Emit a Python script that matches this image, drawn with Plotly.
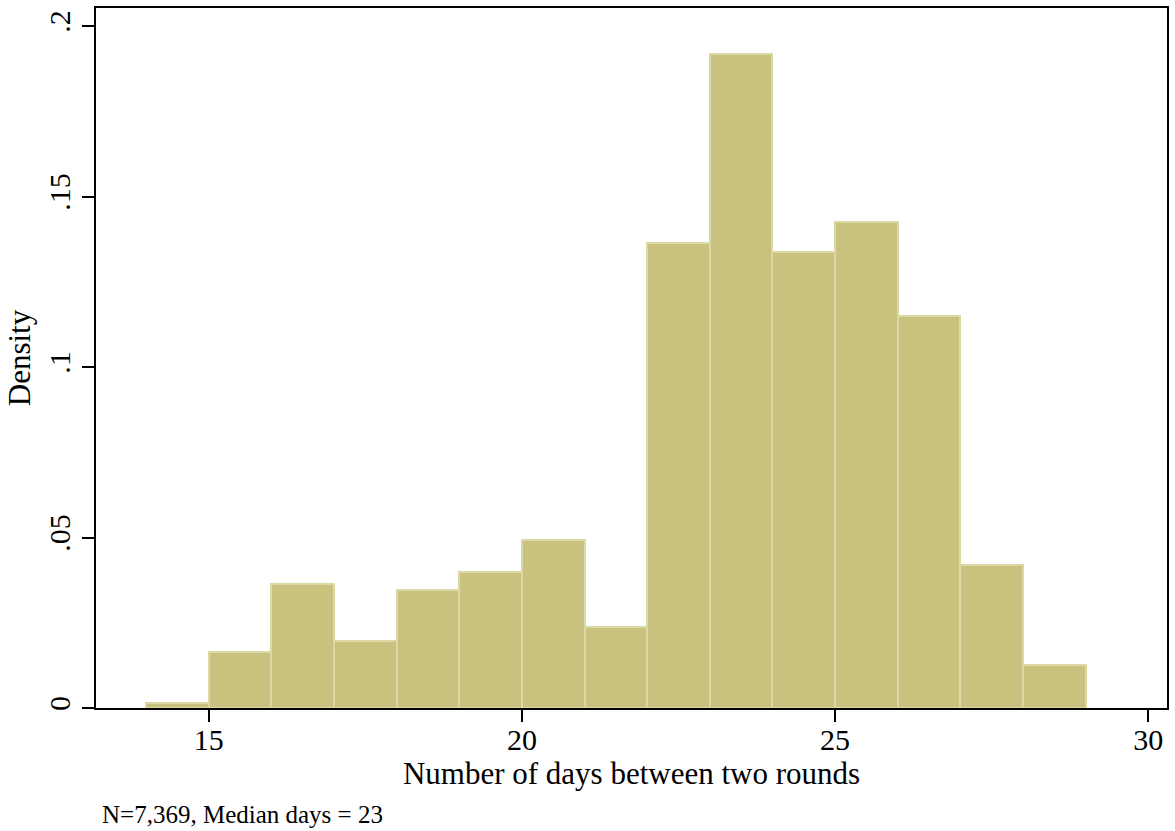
import plotly.graph_objects as go

# histogram bins (left edge, width 1 day) and density heights
bin_start = [14, 15, 16, 17, 18, 19, 20, 21, 22, 23, 24, 25, 26, 27, 28]
density = [0.0015, 0.0164, 0.0365, 0.0196, 0.0345, 0.0398, 0.0494, 0.0237,
           0.1363, 0.1918, 0.1336, 0.1424, 0.1149, 0.0418, 0.0126]
xticks = [15, 20, 25, 30]
yticks = [0, 0.05, 0.1, 0.15, 0.2]
ytick_labels = ["0", ".05", ".1", ".15", ".2"]

font = "Liberation Serif, Times New Roman, serif"

fig = go.Figure(go.Bar(
    x=[b + 0.5 for b in bin_start],
    y=density,
    width=1,
    marker=dict(color="#C9C27E", line=dict(color="#DCD8A4", width=2)),
))

fig.update_layout(
    width=1175, height=831,
    margin=dict(l=96, r=8, t=6, b=123),
    plot_bgcolor="white", paper_bgcolor="white",
    font=dict(family=font, color="black"),
    showlegend=False,
    bargap=0,
)
fig.update_xaxes(
    range=[13.2, 30.3], tickvals=xticks,
    ticks="outside", ticklen=12, tickwidth=2, tickcolor="black",
    tickfont=dict(size=30), ticklabelstandoff=-8,
    showline=True, linecolor="black", linewidth=2, mirror=True,
    showgrid=False, zeroline=False,
    title=dict(text="Number of days between two rounds", font=dict(size=31), standoff=2),
)
fig.update_yaxes(
    range=[0, 0.2053], tickvals=yticks, ticktext=ytick_labels, tickangle=-90,
    ticks="outside", ticklen=12, tickwidth=2, tickcolor="black",
    tickfont=dict(size=30),
    showline=True, linecolor="black", linewidth=2, mirror=True,
    showgrid=False, zeroline=False,
    title=dict(text="Density", font=dict(size=31), standoff=3),
)
fig.add_annotation(
    text="N=7,369, Median days = 23", xref="paper", yref="paper",
    x=0.004, y=-0.152, xanchor="left", yanchor="middle", showarrow=False,
    font=dict(size=25),
)

# drop the default body margin so the figure sits flush in the window
fig.write_html("out.html", config={"displayModeBar": False},
               post_script="document.body.style.margin='0';")
